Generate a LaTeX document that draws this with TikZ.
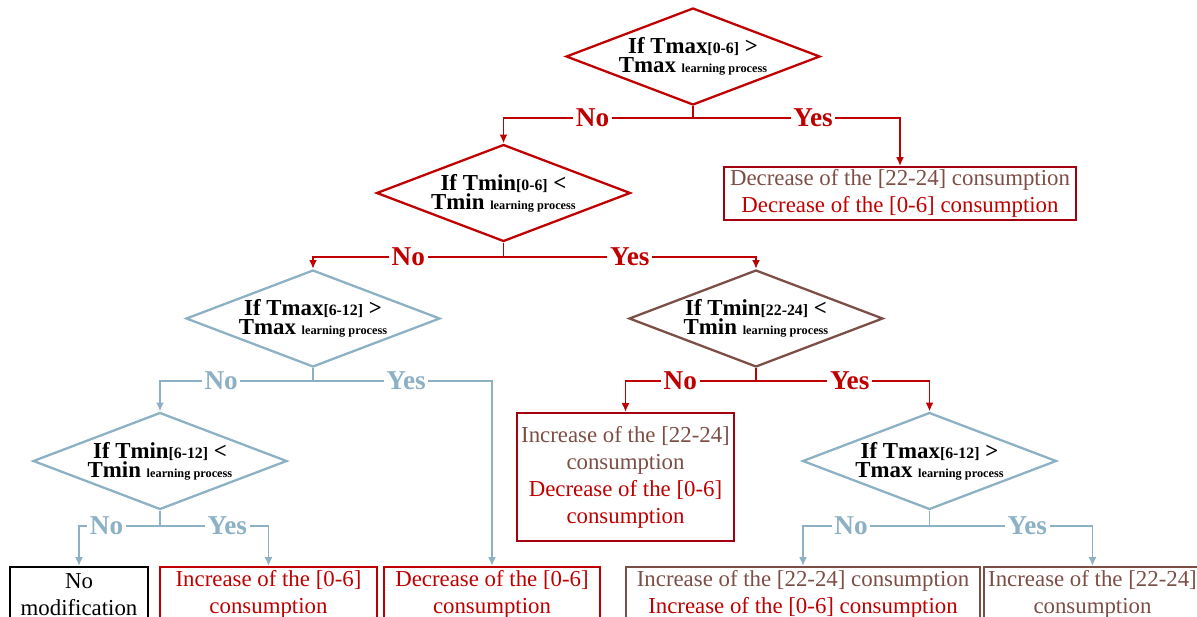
\documentclass[tikz,border=0pt]{standalone}
\usepackage{fontspec}
\setmainfont{Liberation Serif}
\usetikzlibrary{shapes.geometric,arrows.meta}
\definecolor{dred}{RGB}{192,0,0}
\definecolor{dredb}{RGB}{165,0,15}
\definecolor{dbrown}{RGB}{125,78,70}
\definecolor{dblue}{RGB}{140,176,196}
\newcommand{\intv}[1]{{\fontsize{9}{9}\selectfont[#1]}}
\newcommand{\lproc}{{\fontsize{7}{7}\selectfont learning process}}

\begin{document}
\begin{tikzpicture}[x=0.02cm,y=-0.02cm]

			\tikzstyle{test}=[diamond,draw,line width=1.3pt,
				minimum width=5.08cm,minimum height=1.94cm,inner sep=0pt]
			\tikzstyle{cond}=[font=\fontsize{13}{11}\selectfont\bfseries,
				align=center,inner sep=0pt]
			\tikzstyle{action}=[draw,line width=1.4pt,anchor=north,
				align=center,inner sep=0pt,
				font=\fontsize{13}{15.4}\selectfont]
			\tikzstyle{stub}=[line width=1pt]
			\tikzstyle{branch}=[line width=1pt,-{Latex[length=5pt,width=4.5pt]}]
			\tikzstyle{answer}=[fill=white,inner sep=1.5pt,
				font=\fontsize{15.5}{15.5}\selectfont\bfseries]

			\useasboundingbox (0,0) rectangle (1197,616);
			\clip (0,0) rectangle (1197,616);

			\node[test,draw=dred]		(d1)	at (693,56.5)	{};
			\node[test,draw=dred]		(d2)	at (503.5,193)	{};
			\node[test,draw=dblue]		(d3)	at (313,318.5)	{};
			\node[test,draw=dbrown]		(d4)	at (756,318.5)	{};
			\node[test,draw=dblue]		(d5)	at (160,461)	{};
			\node[test,draw=dblue]		(d6)	at (929.5,461)	{};

			\node[cond]	(t1)	at (d1)	{If Tmax\intv{0-6} >\\Tmax \lproc};
			\node[cond]	(t2)	at (d2)	{If Tmin\intv{0-6} <\\Tmin \lproc};
			\node[cond]	(t3)	at (d3)	{If Tmax\intv{6-12} >\\Tmax \lproc};
			\node[cond]	(t4)	at (d4)	{If Tmin\intv{22-24} <\\Tmin \lproc};
			\node[cond]	(t5)	at (d5)	{If Tmin\intv{6-12} <\\Tmin \lproc};
			\node[cond]	(t6)	at (d6)	{If Tmax\intv{6-12} >\\Tmax \lproc};

			\node[action,draw=dredb,minimum width=7.04cm,minimum height=1.06cm]
				(r1)	at (900,166)
				{\textcolor{dbrown}{Decrease of the [22-24] consumption}\\
				\textcolor{dred}{Decrease of the [0-6] consumption}};
			\node[action,draw=dredb,minimum width=4.34cm,minimum height=2.56cm]
				(r2)	at (625.5,412)
				{\textcolor{dbrown}{Increase of the [22-24]}\\
				\textcolor{dbrown}{consumption}\\
				\textcolor{dred}{Decrease of the [0-6]}\\
				\textcolor{dred}{consumption}};
			\node[action,draw=black,minimum width=2.76cm,minimum height=1.08cm]
				(r3)	at (79,566)	{No\\modification};
			\node[action,draw=dred,text=dred,minimum width=4.34cm,minimum height=1.08cm]
				(r4)	at (268.5,566)	{Increase of the [0-6]\\consumption};
			\node[action,draw=dred,text=dred,minimum width=4.32cm,minimum height=1.08cm]
				(r5)	at (492,566)	{Decrease of the [0-6]\\consumption};
			\node[action,draw=dbrown,minimum width=7.08cm,minimum height=1.08cm]
				(r6)	at (803,566)
				{\textcolor{dbrown}{Increase of the [22-24] consumption}\\
				\textcolor{dred}{Increase of the [0-6] consumption}};
			\node[action,draw=dbrown,text=dbrown,minimum width=4.34cm,minimum height=1.08cm]
				(r7)	at (1092.5,566)	{Increase of the [22-24]\\consumption};

			\draw[stub,dred] (d1.south) -- ++(0,12) coordinate (j1);
			\draw[branch,dred] (j1) -| node[answer,pos=0.265] (n1) {No} (d2.north);
			\draw[branch,dred] (j1) -| node[answer,pos=0.29] (y1) {Yes} (r1.north);

			\draw[stub,dred] (d2.south) -- ++(0,14) coordinate (j2);
			\draw[branch,dred] (j2) -| node[answer,pos=0.25] (n2) {No} (d3.north);
			\draw[branch,dred] (j2) -| node[answer,pos=0.25] (y2) {Yes} (d4.north);

			\draw[stub,dblue] (d3.south) -- ++(0,13) coordinate (j3);
			\draw[branch,dblue] (j3) -| node[answer,pos=0.3] (n3) {No} (d5.north);
			\draw[branch,dblue] (j3) -| node[answer,pos=0.26] (y3) {Yes} (r5.north);

			\draw[stub,dred] (d4.south) -- ++(0,13) coordinate (j4);
			\draw[branch,dred] (j4) -| node[answer,pos=0.29] (n4) {No} (r2.north);
			\draw[branch,dred] (j4) -| node[answer,pos=0.27] (y4) {Yes} (d6.north);

			\draw[stub,dblue] (d5.south) -- ++(0,15) coordinate (j5);
			\draw[branch,dblue] (j5) -| node[answer,pos=0.33] (n5) {No} (r3.north);
			\draw[branch,dblue] (j5) -| node[answer,pos=0.31] (y5) {Yes} (r4.north);

			\draw[stub,dblue] (d6.south) -- ++(0,15) coordinate (j6);
			\draw[branch,dblue] (j6) -| node[answer,pos=0.31] (n6) {No} (r6.north);
			\draw[branch,dblue] (j6) -| node[answer,pos=0.3] (y6) {Yes} (r7.north);

\end{tikzpicture}
\end{document}
